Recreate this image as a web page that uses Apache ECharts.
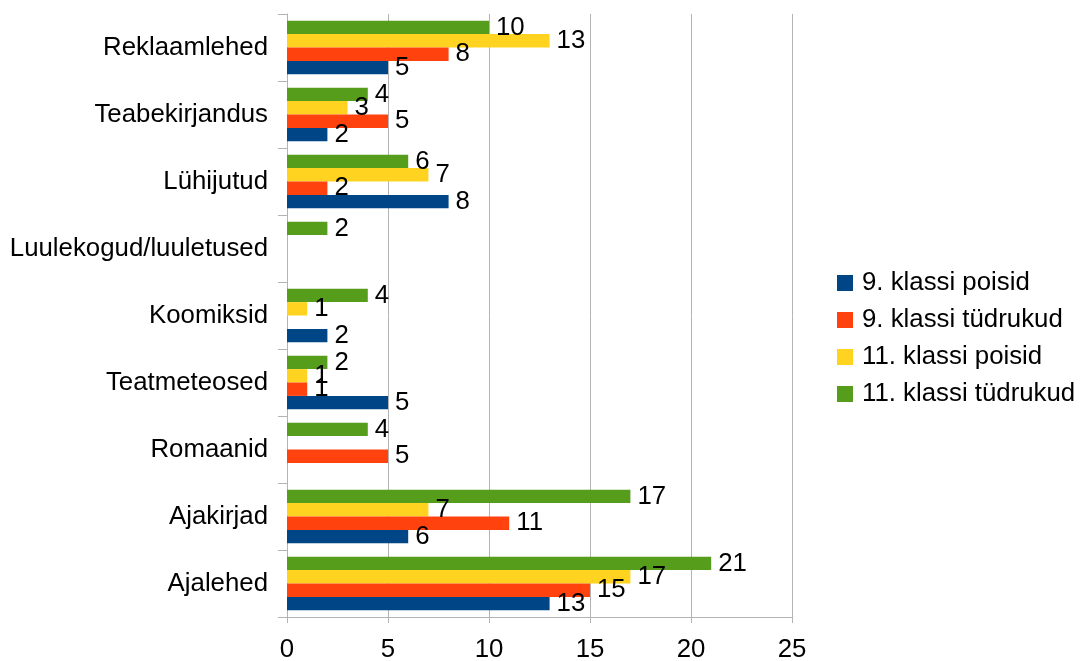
<!DOCTYPE html>
<html>
<head>
<meta charset="utf-8">
<script src="https://cdn.jsdelivr.net/npm/echarts@6/dist/echarts.min.js"></script>
<style>
  html, body { margin: 0; padding: 0; background: #fff; }
  #chart { width: 1084px; height: 661px; }
</style>
</head>
<body>
<div id="chart"></div>
<script>
// categories, bottom to top
const categories = ['Ajalehed', 'Ajakirjad', 'Romaanid', 'Teatmeteosed', 'Koomiksid',
  'Luulekogud/luuletused', 'Lühijutud', 'Teabekirjandus', 'Reklaamlehed']
const seriesNames = ['9. klassi poisid', '9. klassi tüdrukud', '11. klassi poisid', '11. klassi tüdrukud']
const poisid9 = [13, 6, null, 5, 2, null, 8, 2, 5]
const tydrukud9 = [15, 11, 5, 1, null, null, 2, 5, 8]
const poisid11 = [17, 7, null, 1, 1, null, 7, 3, 13]
const tydrukud11 = [21, 17, 4, 2, 4, 2, 6, 4, 10]
const xTicks = [0, 5, 10, 15, 20, 25]

const colors = ['#004586', '#ff420e', '#ffd320', '#579d1c']
const font = 'Liberation Sans'
const fs = 25.8

const chart = echarts.init(document.getElementById('chart'))
const makeSeries = (name, data, i) => ({
  name: name,
  type: 'bar',
  data: data,
  barCategoryGap: '20%',
  barGap: '0%',
  itemStyle: { color: colors[i] },
  label: {
    show: true,
    position: 'right',
    distance: 7,
    color: '#000',
    fontSize: fs,
    fontFamily: font
  }
})

chart.setOption({
  animation: false,
  textStyle: { fontFamily: font },
  grid: { left: 287, right: 292, top: 14, bottom: 44, outerBoundsMode: 'none' },
  legend: {
    orient: 'vertical',
    left: 837,
    top: 270,
    padding: 0,
    itemWidth: 16,
    itemHeight: 16,
    itemGap: 11,
    icon: 'rect',
    data: seriesNames,
    textStyle: { fontSize: fs, color: '#000', fontFamily: font, padding: [0, 0, 0, 4] }
  },
  xAxis: {
    type: 'value',
    min: xTicks[0],
    max: xTicks[xTicks.length - 1],
    interval: 5,
    axisLine: { show: true, lineStyle: { color: '#b3b3b3' } },
    axisTick: { show: true, length: 6, lineStyle: { color: '#b3b3b3' } },
    axisLabel: { color: '#000', fontSize: fs, margin: 20, fontFamily: font },
    splitLine: { show: true, lineStyle: { color: '#b3b3b3' } }
  },
  yAxis: {
    type: 'category',
    data: categories,
    axisLine: { show: true, lineStyle: { color: '#b3b3b3' } },
    axisTick: { show: true, length: 9, lineStyle: { color: '#b3b3b3' } },
    axisLabel: { color: '#000', fontSize: fs, margin: 19, fontFamily: font }
  },
  // horizontal bars stack the first series at the top, so add them in reverse
  series: [
    makeSeries(seriesNames[3], tydrukud11, 3),
    makeSeries(seriesNames[2], poisid11, 2),
    makeSeries(seriesNames[1], tydrukud9, 1),
    makeSeries(seriesNames[0], poisid9, 0)
  ]
})
</script>
</body>
</html>
